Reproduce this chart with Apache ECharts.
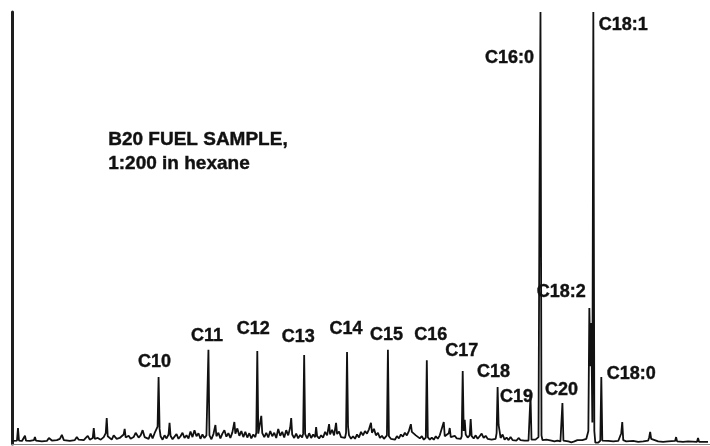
<!DOCTYPE html>
<html>
<head>
<meta charset="utf-8">
<script src="https://cdn.jsdelivr.net/npm/echarts@6/dist/echarts.min.js"></script>
<style>
  html, body { margin: 0; padding: 0; background: #ffffff; }
  #chart { width: 710px; height: 446px; }
</style>
</head>
<body>
<div id="chart"></div>
<script>
// Labelled peaks of the B20 chromatogram: name, retention (axis units), relative height (%)
const peakNames   = ['C10', 'C11', 'C12', 'C13', 'C14', 'C15', 'C16', 'C17', 'C18', 'C19', 'C16:0', 'C20', 'C18:2', 'C18:1', 'C18:0'];
const peakTimes   = [14.7, 19.7, 24.6, 29.3, 33.6, 37.7, 41.6, 45.2, 48.7, 52.0, 53.0, 55.2, 57.9, 58.3, 59.1];
const peakHeights = [15.5, 21.8, 21.5, 20.6, 21.3, 21.8, 19.4, 16.9, 13.2, 11.3, 100, 9.5, 31.5, 100, 15.5];

// Baseline, noise and unlabelled minor peaks: retention times and responses
const noiseTimes = [
  0, 0.2, 0.5, 0.6, 0.7, 1.0, 1.2, 1.3, 1.4, 1.8, 2.2, 2.3, 2.4, 3.0, 3.5, 3.7, 3.8, 4.0, 4.5, 4.8,
  5.0, 5.2, 5.8, 6.3, 6.5, 6.7, 7.2, 7.4, 7.6, 7.8, 8.1, 8.2, 8.3, 8.6, 8.9, 9.2, 9.4, 9.5, 9.6, 9.8,
  10.0, 10.2, 10.3, 10.5, 10.8, 11.0, 11.2, 11.3, 11.4, 11.7, 11.9, 12.2, 12.4, 12.5, 12.7, 12.9, 13.1, 13.3, 13.5, 13.7,
  13.9, 14.1, 14.3, 14.4, 14.6, 14.8, 14.9, 15.1, 15.3, 15.5, 15.7, 15.8, 15.9, 16.1, 16.3, 16.5, 16.7, 16.9, 17.1, 17.3,
  17.5, 17.7, 17.9, 18.1, 18.3, 18.5, 18.7, 18.9, 19.1, 19.3, 19.5, 19.6, 19.8, 20.0, 20.2, 20.4, 20.5, 20.7, 20.9, 21.1,
  21.3, 21.5, 21.7, 21.9, 22.1, 22.3, 22.4, 22.6, 22.8, 23.0, 23.2, 23.4, 23.6, 23.8, 24.0, 24.2, 24.4, 24.5, 24.7, 24.9,
  25.0, 25.1, 25.3, 25.5, 25.7, 25.9, 26.1, 26.3, 26.5, 26.7, 26.9, 27.1, 27.3, 27.5, 27.7, 27.9, 28.0, 28.1, 28.3, 28.5,
  28.7, 28.9, 29.1, 29.2, 29.4, 29.6, 29.8, 30.0, 30.2, 30.4, 30.5, 30.6, 30.8, 31.0, 31.2, 31.4, 31.6, 31.8, 31.9, 32.1,
  32.3, 32.5, 32.6, 32.8, 33.0, 33.2, 33.4, 33.5, 33.7, 33.8, 34.0, 34.2, 34.4, 34.6, 34.8, 35.0, 35.2, 35.4, 35.6, 35.8,
  36.0, 36.1, 36.3, 36.5, 36.7, 36.9, 37.1, 37.3, 37.5, 37.6, 37.8, 38.0, 38.2, 38.4, 38.6, 38.8, 39.0, 39.2, 39.4, 39.6,
  39.8, 40.0, 40.1, 40.3, 40.5, 40.7, 40.9, 41.1, 41.3, 41.5, 41.7, 41.9, 42.1, 42.3, 42.5, 42.7, 42.9, 43.1, 43.3, 43.4,
  43.6, 43.8, 43.9, 44.0, 44.2, 44.4, 44.6, 44.8, 45.0, 45.1, 45.3, 45.4, 45.5, 45.7, 45.9, 46.0, 46.1, 46.3, 46.5, 46.7,
  46.9, 47.1, 47.3, 47.5, 47.7, 47.9, 48.1, 48.3, 48.5, 48.6, 48.8, 48.9, 49.0, 49.2, 49.4, 49.6, 49.8, 50.0, 50.2, 50.4,
  50.6, 50.8, 51.0, 51.2, 51.4, 51.6, 51.8, 51.9, 52.1, 52.3, 52.5, 52.7, 52.8, 52.9, 53.1, 53.2, 53.4, 53.6, 53.8, 54.1,
  54.4, 54.7, 55.0, 55.1, 55.3, 55.5, 55.8, 56.1, 56.4, 56.7, 56.9, 57.2, 57.4, 57.6, 57.8, 58.0, 58.1, 58.2, 58.4, 58.5,
  58.8, 59.0, 59.2, 59.4, 59.8, 60.3, 60.8, 61.0, 61.1, 61.2, 61.3, 61.6, 62.3, 62.8, 63.3, 63.8, 63.9, 64.0, 64.1, 64.3,
  64.8, 65.3, 65.8, 66.5, 66.6, 66.7, 67.3, 67.8, 68.7, 68.8, 68.9, 69.8
];
const noiseValues = [
  0.7, 0.7, 0.8, 3.7, 0.8, 0.7, 0.9, 1.9, 0.8, 0.7, 0.9, 1.6, 0.8, 0.6, 0.7, 1.4, 1.6, 0.8, 0.9, 1.2,
  2.1, 0.9, 0.7, 0.9, 1.6, 1.0, 0.9, 1.4, 1.9, 1.0, 1.4, 3.7, 1.2, 1.4, 1.0, 1.6, 2.5, 6.0, 1.8, 1.6,
  1.0, 2.0, 2.3, 1.2, 1.4, 1.0, 2.2, 3.5, 1.5, 1.9, 1.2, 1.6, 2.6, 2.8, 1.5, 2.0, 3.2, 1.6, 1.9, 1.2,
  2.4, 1.3, 2.5, 2.8, 4.0, 3.5, 1.8, 1.0, 2.0, 1.3, 2.2, 4.9, 1.9, 1.1, 1.7, 2.3, 1.2, 1.8, 2.6, 1.4,
  2.0, 1.3, 2.9, 1.6, 3.2, 1.8, 2.5, 1.2, 2.2, 1.4, 2.0, 2.4, 2.0, 1.1, 2.3, 4.4, 1.8, 2.6, 1.3, 2.4,
  3.2, 1.7, 2.5, 1.4, 2.7, 5.1, 2.4, 3.6, 1.9, 3.0, 1.6, 2.8, 1.5, 2.5, 1.3, 2.2, 1.6, 2.6, 2.4, 2.0,
  6.5, 2.5, 1.6, 2.6, 1.5, 3.0, 1.8, 2.6, 1.4, 3.5, 1.9, 2.8, 1.5, 3.2, 2.0, 3.8, 6.0, 2.2, 1.4, 2.4,
  1.3, 2.1, 1.5, 2.4, 2.3, 1.3, 2.5, 1.4, 2.2, 1.6, 3.9, 1.8, 1.3, 2.0, 1.5, 2.8, 2.0, 4.6, 2.2, 3.3,
  2.0, 4.9, 2.3, 2.9, 1.6, 2.0, 1.4, 2.6, 4.0, 2.0, 1.2, 1.8, 1.2, 2.2, 1.5, 2.8, 2.0, 3.0, 2.4, 3.4,
  4.9, 2.6, 3.5, 2.0, 2.6, 1.4, 1.9, 1.2, 1.5, 2.0, 1.8, 1.2, 1.6, 1.0, 1.8, 1.3, 2.2, 1.7, 2.6, 2.0,
  3.0, 4.6, 2.8, 3.2, 2.0, 2.4, 1.3, 1.8, 1.0, 1.5, 1.6, 1.0, 1.5, 1.0, 1.8, 1.2, 2.0, 1.6, 5.1, 1.8,
  1.4, 2.5, 3.7, 1.6, 1.2, 1.9, 1.3, 1.6, 1.2, 1.8, 3.0, 5.6, 2.2, 1.5, 2.0, 5.8, 1.8, 1.3, 2.0, 1.2,
  1.8, 2.4, 1.4, 1.9, 1.2, 1.6, 1.0, 1.4, 1.2, 2.5, 4.4, 3.0, 1.4, 2.2, 1.0, 1.5, 0.9, 1.6, 0.9, 1.3,
  0.8, 1.4, 0.9, 1.2, 0.8, 1.0, 0.8, 1.1, 1.0, 0.8, 1.0, 0.9, 1.6, 57.2, 2.0, 0.9, 0.8, 1.0, 0.7, 0.8,
  0.6, 0.8, 0.6, 0.9, 0.8, 0.5, 0.6, 0.4, 0.6, 0.9, 0.6, 0.9, 0.7, 1.2, 3.0, 18.0, 28.0, 5.0, 3.0, 0.3,
  0.3, 0.8, 0.8, 0.6, 0.7, 0.6, 0.7, 0.9, 2.5, 5.1, 0.9, 0.6, 0.7, 0.5, 0.6, 0.8, 1.5, 2.8, 1.2, 0.8,
  0.6, 0.5, 0.6, 0.7, 1.6, 0.6, 0.5, 0.6, 0.5, 1.4, 0.5, 0.5
];

// Where each peak name sits relative to its apex, in pixels
const labelOffsets = {
  'C10': [-4, -15], 'C11': [-1.5, -14], 'C12': [-4, -22], 'C13': [-6, -18], 'C14': [-1, -23],
  'C15': [-1.5, -15], 'C16': [4, -25], 'C17': [-1, -20], 'C18': [-4, -15], 'C19': [-14, 2],
  'C16:0': [-31, 46], 'C20': [-1, -13], 'C18:2': [-28, -16], 'C18:1': [30, 13], 'C18:0': [30, -3]
};

// Full trace: baseline points plus the labelled apexes, in time order
const trace = noiseTimes.map((t, i) => [t, noiseValues[i]])
  .concat(peakTimes.map((t, i) => [t, peakHeights[i]]))
  .sort((a, b) => a[0] - b[0]);

const textColor = '#111111';
const fontStack = '"Liberation Sans", Arial, sans-serif';

const chart = echarts.init(document.getElementById('chart'), null, { renderer: 'canvas' });
chart.setOption({
  animation: false,
  backgroundColor: '#ffffff',
  grid: { left: 12, top: 12, width: 700, height: 432, containLabel: false },
  xAxis: {
    type: 'value', min: 0, max: 70,
    axisLine: { show: true, onZero: false, lineStyle: { color: '#8a8a8a', width: 1 } },
    axisTick: { show: false }, axisLabel: { show: false }, splitLine: { show: false }
  },
  yAxis: {
    type: 'value', min: 0, max: 100,
    axisLine: { show: true, lineStyle: { color: '#1e1e1e', width: 3 } },
    axisTick: { show: false }, axisLabel: { show: false }, splitLine: { show: false }
  },
  graphic: [{
    type: 'text',
    left: 108, top: 128,
    style: {
      text: 'B20 FUEL SAMPLE,\n1:200 in hexane',
      lineHeight: 24,
      fill: textColor,
      stroke: textColor,
      lineWidth: 0.4,
      font: 'bold 19px ' + fontStack
    }
  }],
  series: [
    {
      type: 'line',
      data: trace,
      symbol: 'none',
      clip: true,
      lineStyle: { color: '#111111', width: 1.8 },
      z: 2
    },
    {
      type: 'scatter',
      symbolSize: 0,
      itemStyle: { color: 'transparent', opacity: 1 },
      emphasis: { disabled: true },
      data: peakNames.map((n, i) => ({
        name: n,
        value: [peakTimes[i], peakHeights[i]],
        label: { offset: labelOffsets[n] }
      })),
      label: {
        show: true,
        position: 'inside',
        align: 'center',
        verticalAlign: 'middle',
        formatter: p => p.name,
        fontFamily: fontStack,
        fontWeight: 'bold',
        fontSize: 18,
        color: textColor,
        textBorderColor: textColor,
        textBorderWidth: 0.4
      },
      z: 3
    }
  ]
});
</script>
</body>
</html>
